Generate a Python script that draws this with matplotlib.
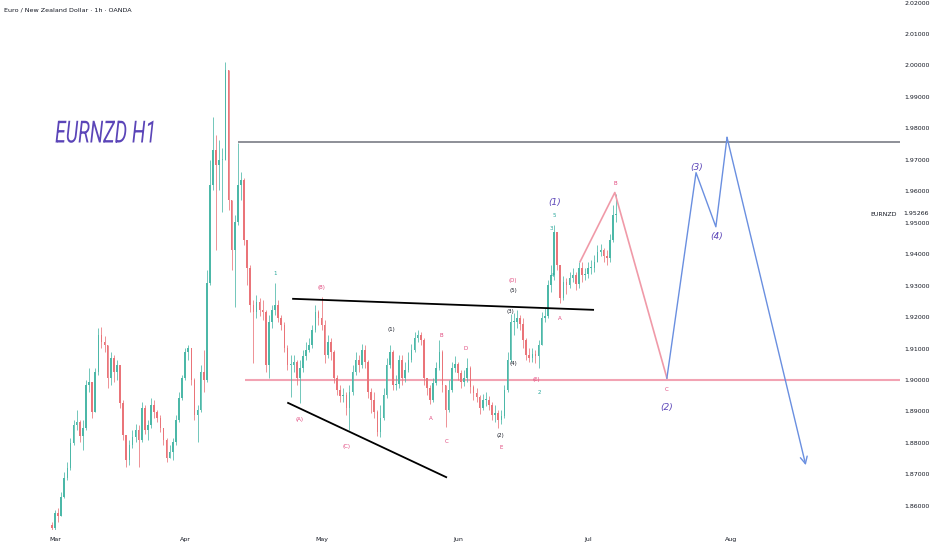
import numpy as np
import matplotlib.pyplot as plt
from matplotlib import patheffects
from matplotlib.transforms import Affine2D, blended_transform_factory

# EURNZD 1h (OANDA), drawn as half-day candles
# x axis = trading days counted from Mon 3 Mar 2025
closes = [
    1.8529, 1.8577, 1.8568, 1.8628, 1.8688, 1.8720, 1.8800, 1.8857, 1.8866, 1.8822,
    1.8847, 1.8984, 1.8994, 1.8898, 1.9025, 1.9143, 1.9121, 1.9111, 1.9006, 1.9070,
    1.9025, 1.9048, 1.8927, 1.8825, 1.8746, 1.8793, 1.8819, 1.8841, 1.8809, 1.8911,
    1.8841, 1.8857, 1.8920, 1.8898, 1.8879, 1.8847, 1.8809, 1.8752, 1.8771, 1.8803,
    1.8873, 1.8943, 1.9006, 1.9089, 1.9102, 1.9000, 1.8889, 1.8905, 1.9025, 1.9000,
    1.9308, 1.9620, 1.9731, 1.9684, 1.9700, 1.9700, 1.9986, 1.9572, 1.9413, 1.9502,
    1.9620, 1.9636, 1.9445, 1.9356, 1.9239, 1.9216, 1.9248, 1.9223, 1.9216, 1.9048,
    1.9184, 1.9223, 1.9239, 1.9197, 1.9175, 1.9102, 1.9048, 1.9048, 1.9057, 1.9006,
    1.9038, 1.9076, 1.9095, 1.9111, 1.9159, 1.9216, 1.9197, 1.9175, 1.9080, 1.9121,
    1.9089, 1.9006, 1.8968, 1.8949, 1.8952, 1.8911, 1.8962, 1.9025, 1.9064, 1.9048,
    1.9095, 1.9057, 1.8962, 1.8936, 1.8898, 1.8835, 1.8879, 1.8952, 1.9048, 1.9089,
    1.8984, 1.8987, 1.9064, 1.9006, 1.9032, 1.9064, 1.9095, 1.9134, 1.9143, 1.9127,
    1.9006, 1.8975, 1.8936, 1.8990, 1.9038, 1.9089, 1.8984, 1.8905, 1.8968, 1.9038,
    1.9051, 1.9022, 1.8994, 1.9006, 1.9038, 1.8978, 1.8959, 1.8946, 1.8911, 1.8936,
    1.8936, 1.8920, 1.8889, 1.8895, 1.8873, 1.8886, 1.8968, 1.9064, 1.9184, 1.9184,
    1.9197, 1.9178, 1.9127, 1.9080, 1.9070, 1.9083, 1.9076, 1.9111, 1.9197, 1.9204,
    1.9302, 1.9334, 1.9471, 1.9366, 1.9261, 1.9312, 1.9302, 1.9324, 1.9334, 1.9305,
    1.9356, 1.9334, 1.9337, 1.9356, 1.9356, 1.9375, 1.9407, 1.9413, 1.9394, 1.9388,
    1.9445, 1.9525, 1.95266,
]
highs = [
    1.8548, 1.8587, 1.8593, 1.8644, 1.8707, 1.8739, 1.8816, 1.8873, 1.8905, 1.8873,
    1.8873, 1.9000, 1.9038, 1.8984, 1.9038, 1.9165, 1.9169, 1.9140, 1.9111, 1.9089,
    1.9080, 1.9064, 1.9048, 1.8936, 1.8825, 1.8809, 1.8841, 1.8860, 1.8857, 1.8930,
    1.8920, 1.8873, 1.8943, 1.8936, 1.8905, 1.8889, 1.8847, 1.8816, 1.8793, 1.8816,
    1.8889, 1.8962, 1.9016, 1.9102, 1.9111, 1.9102, 1.9006, 1.8920, 1.9048, 1.9095,
    1.9350, 1.9700, 1.9836, 1.9779, 1.9763, 1.9738, 2.0011, 1.9986, 1.9572, 1.9525,
    1.9754, 1.9661, 1.9642, 1.9445, 1.9366, 1.9254, 1.9270, 1.9261, 1.9254, 1.9223,
    1.9207, 1.9239, 1.9308, 1.9254, 1.9207, 1.9184, 1.9111, 1.9080, 1.9080, 1.9064,
    1.9064, 1.9095, 1.9121, 1.9134, 1.9175, 1.9239, 1.9223, 1.9264, 1.9191, 1.9143,
    1.9134, 1.9095, 1.9016, 1.8984, 1.8975, 1.8962, 1.8984, 1.9048, 1.9089, 1.9080,
    1.9114, 1.9111, 1.9064, 1.8975, 1.8962, 1.8905, 1.8920, 1.8975, 1.9070, 1.9111,
    1.9095, 1.9016, 1.9080, 1.9080, 1.9057, 1.9089, 1.9114, 1.9153, 1.9159, 1.9153,
    1.9134, 1.9006, 1.8984, 1.9006, 1.9057, 1.9127, 1.9095, 1.8984, 1.9000, 1.9057,
    1.9076, 1.9057, 1.9032, 1.9032, 1.9070, 1.9045, 1.8984, 1.8975, 1.8952, 1.8955,
    1.8962, 1.8949, 1.8930, 1.8920, 1.8905, 1.8905, 1.8984, 1.9089, 1.9210, 1.9213,
    1.9223, 1.9207, 1.9197, 1.9134, 1.9102, 1.9102, 1.9095, 1.9127, 1.9216, 1.9229,
    1.9318, 1.9366, 1.9493, 1.9461, 1.9366, 1.9331, 1.9324, 1.9343, 1.9356, 1.9343,
    1.9375, 1.9375, 1.9356, 1.9375, 1.9382, 1.9398, 1.9429, 1.9432, 1.9420, 1.9413,
    1.9464, 1.9557, 1.9591,
]
lows = [
    1.8517, 1.8523, 1.8548, 1.8580, 1.8625, 1.8682, 1.8714, 1.8793, 1.8841, 1.8803,
    1.8777, 1.8841, 1.8962, 1.8879, 1.8905, 1.9016, 1.9102, 1.9089, 1.8975, 1.8984,
    1.8994, 1.9000, 1.8911, 1.8809, 1.8723, 1.8730, 1.8784, 1.8803, 1.8723, 1.8803,
    1.8828, 1.8809, 1.8847, 1.8879, 1.8866, 1.8835, 1.8793, 1.8739, 1.8752, 1.8746,
    1.8793, 1.8866, 1.8936, 1.9000, 1.9064, 1.8984, 1.8873, 1.8803, 1.8898, 1.8962,
    1.8994, 1.9302, 1.9604, 1.9413, 1.9604, 1.9534, 1.9700, 1.9541, 1.9350, 1.9232,
    1.9493, 1.9572, 1.9429, 1.9302, 1.9216, 1.9054, 1.9197, 1.9204, 1.9191, 1.9025,
    1.9006, 1.9165, 1.9207, 1.9184, 1.9159, 1.9089, 1.9032, 1.8946, 1.9025, 1.8984,
    1.8927, 1.9025, 1.9064, 1.9089, 1.9102, 1.9153, 1.9175, 1.9159, 1.9054, 1.9070,
    1.9064, 1.8990, 1.8952, 1.8930, 1.8930, 1.8889, 1.8841, 1.8952, 1.9016, 1.9025,
    1.9038, 1.9038, 1.8943, 1.8895, 1.8879, 1.8822, 1.8819, 1.8873, 1.8943, 1.9038,
    1.8968, 1.8968, 1.8975, 1.8984, 1.8994, 1.9025, 1.9057, 1.9089, 1.9121, 1.9111,
    1.8984, 1.8952, 1.8924, 1.8930, 1.8984, 1.9032, 1.8962, 1.8851, 1.8898, 1.8962,
    1.9025, 1.9000, 1.8975, 1.8981, 1.8994, 1.8959, 1.8936, 1.8930, 1.8892, 1.8905,
    1.8917, 1.8905, 1.8873, 1.8866, 1.8847, 1.8860, 1.8879, 1.8962, 1.9057, 1.9143,
    1.9165, 1.9159, 1.9102, 1.9064, 1.9057, 1.9057, 1.9054, 1.9038, 1.9127, 1.9184,
    1.9197, 1.9280, 1.9318, 1.9350, 1.9245, 1.9254, 1.9273, 1.9293, 1.9312, 1.9286,
    1.9293, 1.9312, 1.9318, 1.9324, 1.9337, 1.9343, 1.9375, 1.9394, 1.9375, 1.9366,
    1.9375, 1.9439, 1.9502,
]
first_open = 1.8540
first_day = -0.5
candle_step = 0.5  # half a trading day

month_days = [0, 21, 43, 65, 86, 109]
month_names = ['Mar', 'Apr', 'May', 'Jun', 'Jul', 'Aug']
price_ticks = np.arange(1.86, 2.0201, 0.01)
last_price = 1.95266

# drawings
resistance = 1.9758
resistance_from = 29.5
support = 1.9000
support_from = 30.6
upper_trend_x = [38.4, 86.8]
upper_trend_y = [1.9258, 1.9223]
lower_trend_x = [37.6, 63.1]
lower_trend_y = [1.8927, 1.8691]
abc_x = [84.7, 90.3, 98.7]
abc_y = [1.9376, 1.9596, 1.9006]
proj_x = [98.7, 103.4, 106.6, 108.4]
proj_y = [1.9006, 1.9659, 1.9487, 1.9771]
proj_end = (121.1, 1.8729)

PINK = '#e0457b'
GREEN = '#26a69a'
BLACK = '#131722'
PURPLE = '#5b45b8'
wave_labels = [
    ('1', 35.5, 1.9340, GREEN), ('(B)', 42.9, 1.9293, PINK),
    ('(A)', 39.4, 1.8873, PINK), ('(C)', 47.1, 1.8787, PINK),
    ('(1)', 54.2, 1.9159, BLACK), ('B', 62.3, 1.9140, PINK),
    ('A', 60.6, 1.8876, PINK), ('C', 63.1, 1.8803, PINK),
    ('D', 66.3, 1.9099, PINK), ('(2)', 71.9, 1.8825, BLACK),
    ('E', 71.9, 1.8784, PINK), ('(D)', 73.9, 1.9315, PINK),
    ('(5)', 74.0, 1.9283, BLACK), ('(3)', 73.4, 1.9219, BLACK),
    ('(4)', 73.9, 1.9051, BLACK), ('(E)', 77.7, 1.9003, PINK),
    ('2', 78.1, 1.8959, GREEN), ('5', 80.6, 1.9522, GREEN),
    ('3', 80.1, 1.9480, GREEN), ('4', 80.3, 1.9333, GREEN),
    ('A', 81.5, 1.9194, PINK), ('B', 90.3, 1.9626, PINK),
    ('C', 98.7, 1.8971, PINK),
]
big_labels = [
    ('(1)', 80.6, 1.9563), ('(2)', 98.7, 1.8914),
    ('(3)', 103.5, 1.9674), ('(4)', 106.8, 1.9455),
]


class Squeeze(patheffects.AbstractPathEffect):
    # narrows glyphs horizontally around the text's left edge
    def __init__(self, sx, anchor):
        super().__init__()
        self.sx = sx
        self.anchor = anchor

    def draw_path(self, renderer, gc, tpath, affine, rgbFace=None):
        x0 = self.anchor()
        t = affine + Affine2D().translate(-x0, 0).scale(self.sx, 1).translate(x0, 0)
        renderer.draw_path(gc, tpath, t, rgbFace)


fig = plt.figure(figsize=(9.32, 5.5), dpi=100)
ax = fig.add_axes([0, 20 / 550, 900 / 932, 530 / 550])
ax.set_xlim(-8.87, 136.3)
ax.set_ylim(1.8523, 2.0208)

n = len(closes)
xs = first_day + candle_step * np.arange(n)
opens = np.array([first_open] + closes[:-1])
c = np.array(closes)
hi = np.maximum(np.array(highs), np.maximum(opens, c))
lo = np.minimum(np.array(lows), np.minimum(opens, c))
up = c >= opens
cols = np.where(up, '#4cb8a8', '#ea7479')

ax.vlines(xs, lo, hi, colors=cols, lw=0.55, zorder=2)
ax.bar(xs, np.where(np.abs(c - opens) < 0.0002, 0.0002, c - opens), bottom=opens,
       width=0.26, color=cols, linewidth=0, zorder=3)

ax.hlines(resistance, resistance_from, ax.get_xlim()[1], color='#85878f', lw=1.3, zorder=4)
ax.hlines(support, support_from, ax.get_xlim()[1], color='#f2a3b3', lw=1.5, zorder=1)
ax.plot(upper_trend_x, upper_trend_y, color='black', lw=1.3, zorder=5)
ax.plot(lower_trend_x, lower_trend_y, color='black', lw=1.3, zorder=5)
ax.plot(abc_x, abc_y, color='#f09aa8', lw=1.2, zorder=5)
ax.plot(proj_x, proj_y, color='#6a8fe0', lw=1.0, zorder=5)
ax.annotate('', xy=proj_end, xytext=(proj_x[-1], proj_y[-1]),
            arrowprops=dict(arrowstyle='->,head_length=0.5,head_width=0.25',
                            color='#6a8fe0', lw=1.0, shrinkA=0, shrinkB=0), zorder=5)

for txt, x, y, col in wave_labels:
    ax.text(x, y, txt, color=col, fontsize=4, ha='center', va='center', zorder=6)
for txt, x, y in big_labels:
    ax.text(x, y, txt, color=PURPLE, fontsize=6.5, style='italic',
            ha='center', va='center', zorder=6)

title_x, title_y = 0, 1.9782
ax.text(title_x, title_y, 'EURNZD H1', color=PURPLE, fontsize=22, style='italic',
        family='Roboto', ha='left', va='center', zorder=6,
        path_effects=[Squeeze(0.64, lambda: ax.transData.transform((title_x, title_y))[0])])

# axes look like the TradingView panes
for s in ax.spines.values():
    s.set_visible(False)
ax.yaxis.tick_right()
ax.set_yticks(price_ticks)
ax.set_yticklabels(['%.5f' % p for p in price_ticks])
ax.set_xticks(month_days)
ax.set_xticklabels(month_names)
ax.tick_params(axis='both', length=0, labelsize=4.5, labelcolor=BLACK)
ax.tick_params(axis='y', pad=3)
ax.tick_params(axis='x', pad=5)

side = blended_transform_factory(ax.transAxes, ax.transData)
ax.text(0.997, last_price, 'EURNZD', transform=side, fontsize=4.5, color=BLACK,
        ha='right', va='center')
ax.text(1.0035, last_price + 0.0003, '%.5f' % last_price, transform=side, fontsize=4.5,
        color=BLACK, ha='left', va='center', clip_on=False)

fig.text(4 / 932, 1 - 10 / 550, 'Euro / New Zealand Dollar · 1h · OANDA',
         fontsize=4.6, color=BLACK, ha='left', va='center')

fig.savefig('out.png', dpi=100)
